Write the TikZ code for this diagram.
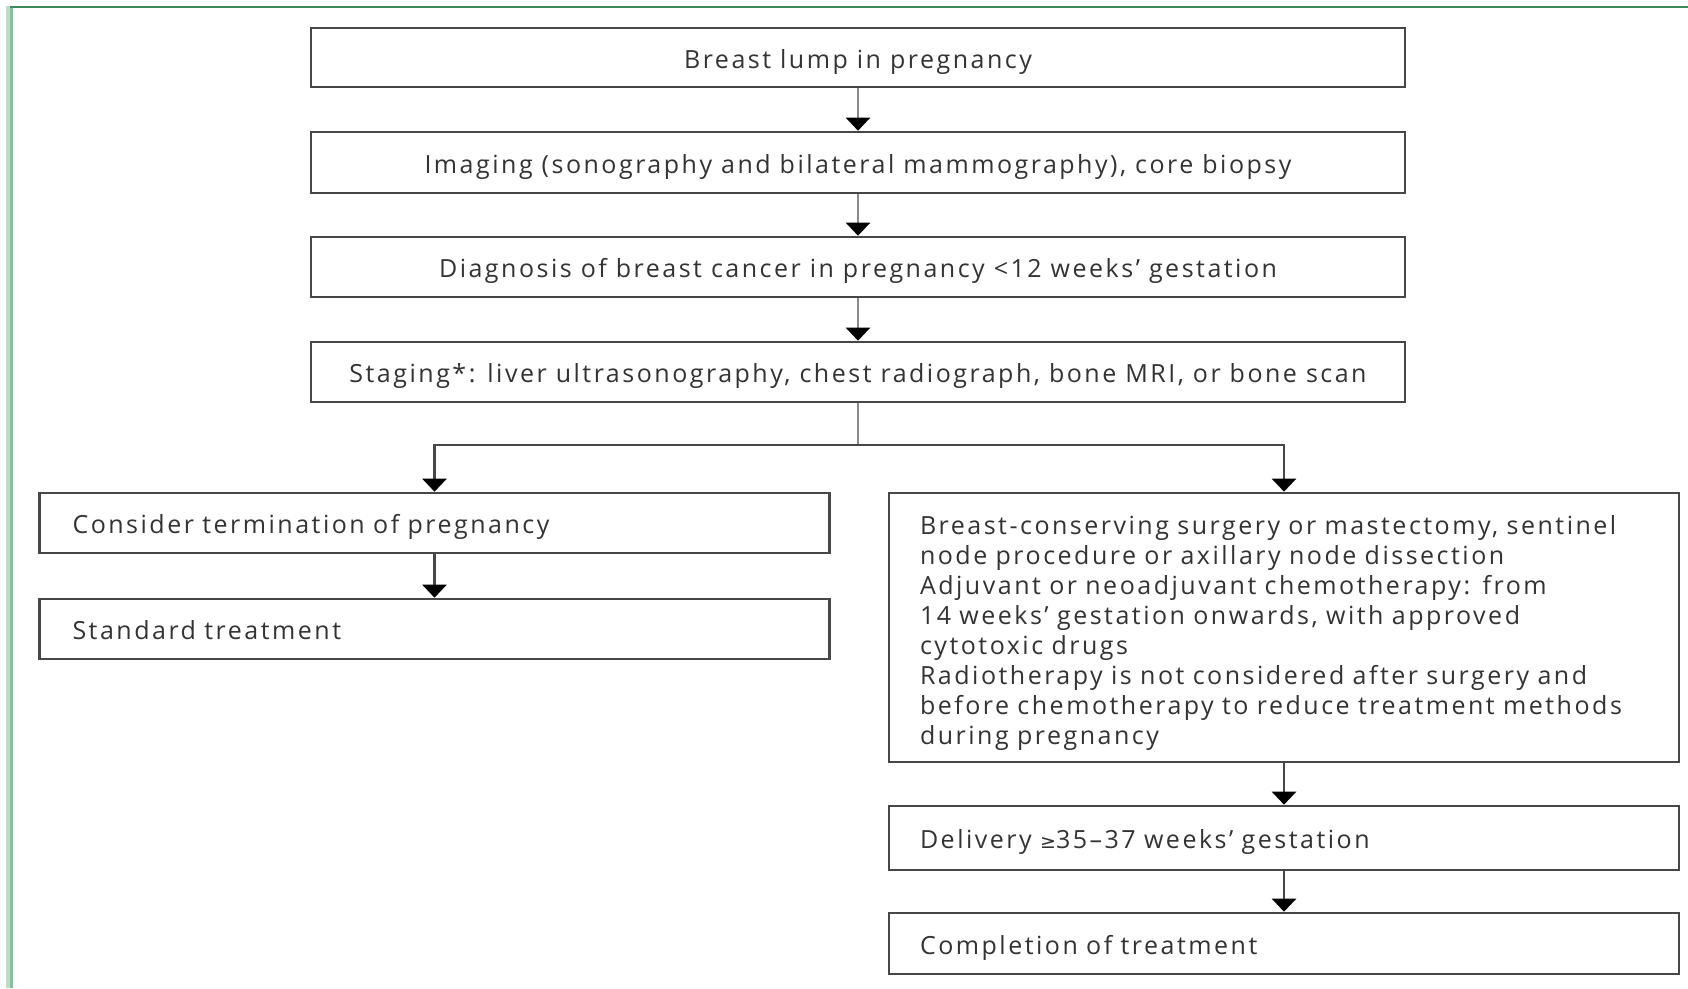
\documentclass[tikz,border=0pt]{standalone}
\usepackage{fontspec}
\setmainfont{Open Sans}[LetterSpace=10]
\newfontfamily\symfont{DejaVu Sans}
\usetikzlibrary{arrows.meta}
\definecolor{frameG}{HTML}{3D8C5E}
\definecolor{frameL}{HTML}{88BF9E}
\definecolor{frameLL}{HTML}{BCDCC8}
\definecolor{boxline}{HTML}{474747}
\definecolor{shaft}{HTML}{8A8A8A}
\definecolor{txt}{HTML}{333333}
\tikzset{
  box/.style={draw=boxline, line width=2.6pt, rectangle, text=txt, font=\fontsize{25}{29.9}\selectfont, inner ysep=0pt},
  oneline/.style={text height=24pt, text depth=3pt},
  cbox/.style={box, oneline, minimum width=1094pt, align=center},
  lbox/.style={box, oneline, inner xsep=33pt, text width=724pt, align=left},
  rbox/.style={box, inner xsep=31pt, text width=728pt, align=left},
  arr/.style={draw=shaft, line width=2.4pt, -{Triangle[width=24pt,length=13pt,fill=black,color=black]}},
  darr/.style={draw=boxline, line width=2.4pt, -{Triangle[width=24pt,length=13pt,fill=black,color=black]}},
}
\begin{document}
\begin{tikzpicture}[x=1pt,y=-1pt]
\useasboundingbox (0,0) rectangle (1688,988);
\fill[white] (0,0) rectangle (1688,988);
% frame
\fill[frameLL] (6,6) rectangle (10,988);
\fill[frameL] (10,6) rectangle (13,988);
\fill[frameG] (10,5.7) rectangle (1688,7.8);
% top chain
\node[cbox, minimum height=59pt] (b1) at (858,57.5) {Breast lump in pregnancy};
\node[cbox, minimum height=61pt] (b2) at (858,162.5) {Imaging (sonography and bilateral mammography), core biopsy};
\node[cbox, minimum height=60pt] (b3) at (858,267) {Diagnosis of breast cancer in pregnancy <12 weeks’ gestation};
\node[cbox, minimum height=60pt] (b4) at (858,372) {Staging*: liver ultrasonography, chest radiograph, bone MRI, or bone scan};
% left branch
\node[lbox, minimum height=60pt] (l1) at (434.5,523) {Consider termination of pregnancy};
\node[lbox, minimum height=60pt] (l2) at (434.5,629) {Standard treatment};
% right branch
\node[rbox, minimum height=269pt] (r1) at (1284,627.5) {\rule{0pt}{30pt}Breast-conserving surgery or mastectomy, sentinel\\ node procedure or axillary node dissection\\ Adjuvant or neoadjuvant chemotherapy: from\\ 14 weeks’ gestation onwards, with approved\\ cytotoxic drugs\\ Radiotherapy is not considered after surgery and\\ before chemotherapy to reduce treatment methods\\ during pregnancy};
\node[rbox, oneline, minimum height=64pt] (r2) at (1284,838) {Delivery {\symfont\fontsize{19}{20}\selectfont ≥}35–37 weeks’ gestation};
\node[rbox, oneline, minimum height=61pt] (r3) at (1284,943.5) {Completion of treatment};
% connectors
\draw[arr] (b1) -- (b2);
\draw[arr] (b2) -- (b3);
\draw[arr] (b3) -- (b4);
\coordinate (split) at (858,445);
\draw[draw=shaft, line width=2.4pt] (b4.south) -- (split);
\draw[darr] (split) -| (l1.north);
\draw[darr] (split) -| (r1.north);
\draw[darr] (l1) -- (l2);
\draw[darr] (r1) -- (r2);
\draw[darr] (r2) -- (r3);
\end{tikzpicture}
\end{document}
